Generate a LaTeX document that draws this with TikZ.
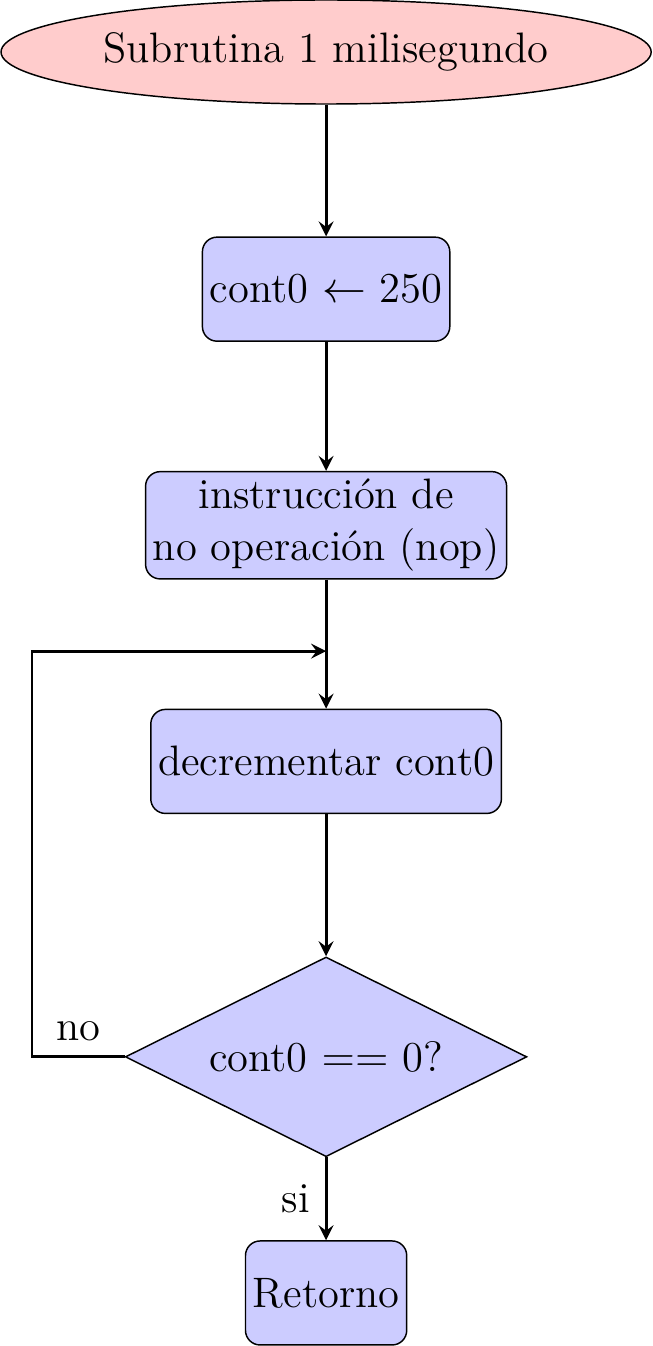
\documentclass[tikz,border=0pt,12pt]{standalone}
\usepackage{amsmath,amssymb}
\usepackage{tikz}
\usetikzlibrary{shapes.geometric, arrows}

\begin{document}
\begin{tikzpicture}[font=\fontsize{11.65}{14.3}\selectfont]
        % Setup the styles for the blocks
        \tikzset{start style/.style={ellipse,
                                    draw,
                                    inner sep=2pt,
                                    minimum width=6.22cm,
                                    minimum height=1cm,
                                    fill=red!20},
                 block style/.style={rectangle,
                                    draw,
                                    rounded corners,
                                    align=center,
                                    inner sep=2pt,
                                    minimum height=1cm,
                                    fill=blue!20},
                 decision style/.style={diamond,
                                    draw,
                                    aspect=2,
                                    minimum width=3.86cm,
                                    minimum height=1.92cm,
                                    inner sep=1pt,
                                    fill=blue!20},
                 line style/.style={thick, -stealth}}

        \useasboundingbox (-3.135, 0.5) rectangle (3.135, -12.44);

        % Draw the blocks
        \node[start style] at (0, 0)        (start)   {Subrutina 1 milisegundo};
        \node[block style] at (0, -2.28)    (load)    {cont0 $\leftarrow$ 250};
        \node[block style] at (0, -4.55)    (nop)     {instrucci\'on de\\no operaci\'on (nop)};
        \node[block style] at (0, -6.82)    (dec)     {decrementar cont0};
        \node[decision style] at (0, -9.66) (test)    {cont0 $==$ 0?};
        \node[block style] at (0, -11.93)   (return)  {Retorno};
        \coordinate (join) at (0, -5.76);

        % Connect the blocks with arrows
        \draw[line style] (start) -- (load);
        \draw[line style] (load) -- (nop);
        \draw[line style] (nop) -- (dec);
        \draw[line style] (dec) -- (test);
        \draw[line style] (test) -- node[left] {si} (return);
        \draw[line style] (test.west) -- node[above] {no} ++(-0.89, 0) |- (join);
\end{tikzpicture}
\end{document}
